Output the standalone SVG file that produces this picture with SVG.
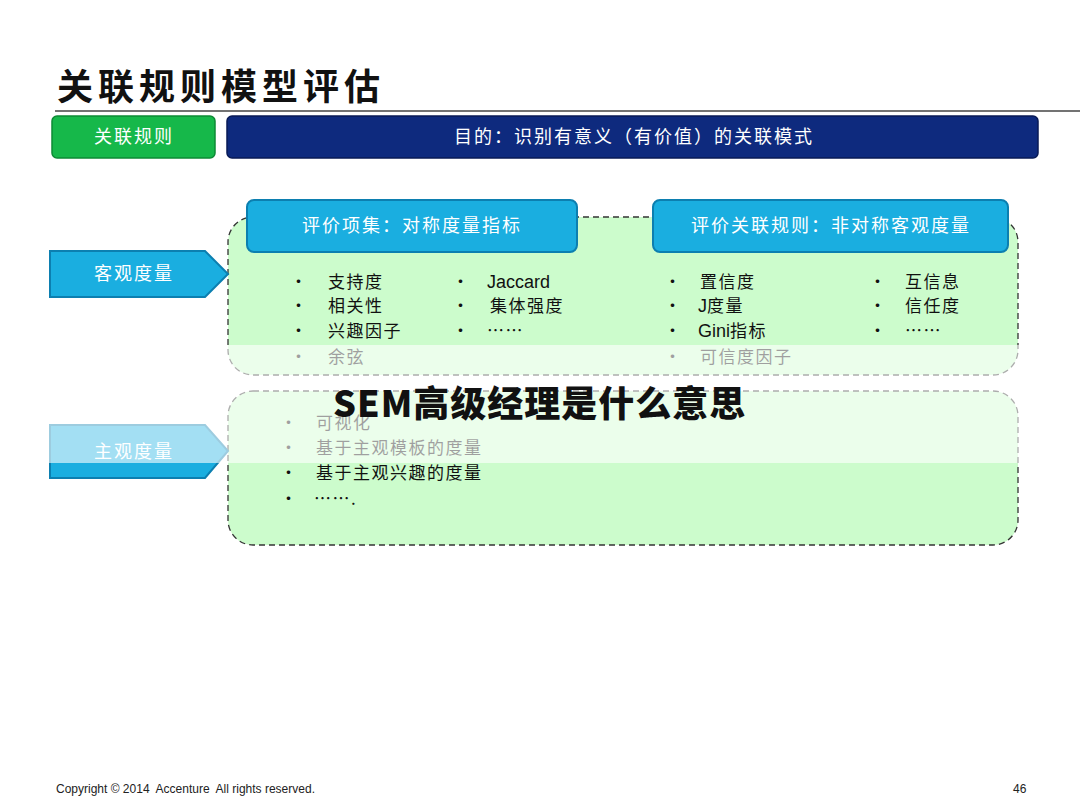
<svg xmlns="http://www.w3.org/2000/svg" width="1080" height="810" viewBox="0 0 1080 810">
<defs>
<style>
.cj{font-family:"Noto Sans CJK SC","Liberation Sans",sans-serif}
.hd{font-size:18px;fill:#fff;letter-spacing:2px}
.bul{font-size:17px;fill:#111;letter-spacing:1.5px}
.box{fill:#ccfccc;stroke:#333;stroke-width:1.3;stroke-dasharray:6,4}
.blue{fill:#1aaee0;stroke:#0c7fb0;stroke-width:2}
</style>
</defs>
<rect width="1080" height="810" fill="#fff"/>
<text x="57" y="100" class="cj" font-size="36" font-weight="bold" fill="#111" letter-spacing="5">关联规则模型评估</text>
<line x1="55" y1="111" x2="1080" y2="111" stroke="#444" stroke-width="1.5"/>
<g id="btn-rule"><rect x="52" y="116" width="163" height="42" rx="5" fill="#16b84a" stroke="#0d8a35" stroke-width="1.5"/>
<text x="134" y="143" text-anchor="middle" class="cj hd" font-size="17">关联规则</text></g>
<g id="goal"><rect x="227" y="116" width="811" height="42" rx="5" fill="#0e2a7e" stroke="#081a55" stroke-width="1.5"/>
<text x="634" y="143" text-anchor="middle" class="cj hd" font-size="17">目的：识别有意义（有价值）的关联模式</text></g>
<g id="box-obj"><rect x="228" y="217" width="790" height="158" rx="25" class="box"/></g>
<g id="box-subj"><rect x="228" y="391" width="790" height="154" rx="25" class="box"/></g>
<g id="h1"><rect x="247" y="200" width="330" height="52" rx="7" class="blue"/>
<text x="412" y="232" text-anchor="middle" class="cj hd">评价项集：对称度量指标</text></g>
<g id="h2"><rect x="653" y="200" width="355" height="52" rx="7" class="blue"/>
<text x="831" y="232" text-anchor="middle" class="cj hd">评价关联规则：非对称客观度量</text></g>
<g id="obj"><path d="M50 251 H205 L228 274 L205 297 H50 Z" class="blue"/>
<text x="134" y="280" text-anchor="middle" class="cj hd">客观度量</text></g>
<g id="subj"><path d="M50 425 H205 L228 451 L205 478 H50 Z" class="blue"/>
<text x="134" y="458" text-anchor="middle" class="cj hd">主观度量</text></g>
<g class="cj bul">
<text x="290" y="288">•</text><text x="328" y="288">支持度</text>
<text x="290" y="312">•</text><text x="328" y="312">相关性</text>
<text x="290" y="337">•</text><text x="328" y="337">兴趣因子</text>
<text x="290" y="363">•</text><text x="328" y="363">余弦</text>
<text x="452" y="288">•</text><text x="487" y="288" font-family="Liberation Sans" font-size="18" letter-spacing="0">Jaccard</text>
<text x="452" y="312">•</text><text x="490" y="312">集体强度</text>
<text x="452" y="337">•</text><text x="487" y="337">……</text>
<text x="664" y="288">•</text><text x="700" y="288">置信度</text>
<text x="664" y="312">•</text><text x="698" y="312"><tspan font-family="Liberation Sans" font-size="18" letter-spacing="0">J</tspan>度量</text>
<text x="664" y="337">•</text><text x="698" y="337"><tspan font-family="Liberation Sans" font-size="18" letter-spacing="0">Gini</tspan>指标</text>
<text x="664" y="363">•</text><text x="700" y="363">可信度因子</text>
<text x="869" y="288">•</text><text x="905" y="288">互信息</text>
<text x="869" y="312">•</text><text x="905" y="312">信任度</text>
<text x="869" y="337">•</text><text x="905" y="337">……</text>
<text x="280" y="429">•</text><text x="316" y="429">可视化</text>
<text x="280" y="454">•</text><text x="316" y="454">基于主观模板的度量</text>
<text x="280" y="479">•</text><text x="316" y="479">基于主观兴趣的度量</text>
<text x="280" y="505">•</text><text x="314" y="505">…….</text>
</g>
<rect x="0" y="345" width="1080" height="118" fill="#fff" opacity="0.6"/>
<text x="333" y="417" class="cj" font-size="36" font-weight="900" fill="#111" letter-spacing="1">SEM高级经理是什么意思</text>
<text x="56" y="793" font-family="Liberation Sans" font-size="12" fill="#222" xml:space="preserve">Copyright © 2014  Accenture  All rights reserved.</text>
<text x="1013" y="793" font-family="Liberation Sans" font-size="12" fill="#222">46</text>
</svg>
